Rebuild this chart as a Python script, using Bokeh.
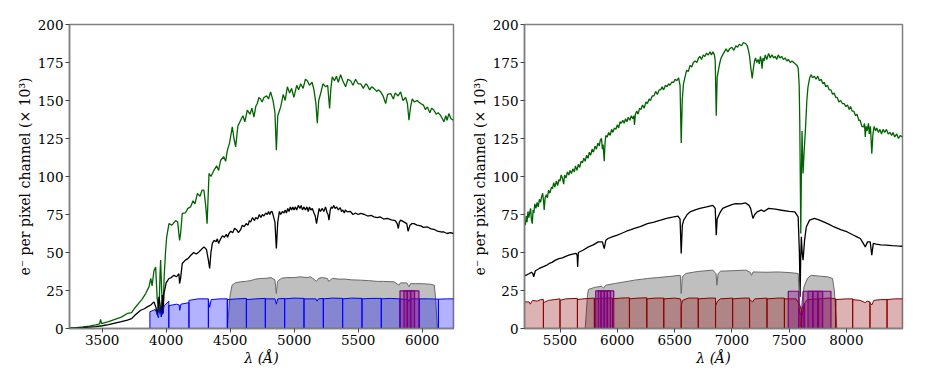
from bokeh.plotting import figure
from bokeh.layouts import row
from bokeh.models import Range1d, FixedTicker
from bokeh.embed import file_html
from bokeh.resources import INLINE

# ---------------- data: left panel ----------------
L_GREEN_WAVE = [3245, 3300, 3350, 3400, 3450, 3480, 3488, 3495, 3550, 3600, 3650, 3700, 3730, 3760, 3790, 3810,
                3840, 3866, 3880, 3890, 3905, 3918, 3930, 3944, 3952, 3957, 3965, 3975, 3985, 3995, 4004, 4022,
                4045, 4074, 4090, 4105, 4113, 4126, 4150, 4170, 4191, 4210, 4225, 4244, 4265, 4280, 4295, 4310,
                4320, 4335, 4350, 4373, 4395, 4410, 4426, 4450, 4465, 4478, 4495, 4517, 4530, 4543, 4560, 4582,
                4600, 4615, 4634, 4655, 4670, 4686, 4700, 4712, 4725, 4738, 4750, 4764, 4785, 4800, 4816, 4835,
                4850, 4861, 4872, 4895, 4915, 4930, 4947, 4965, 4980, 4998, 5020, 5035, 5051, 5070, 5088, 5103,
                5120, 5140, 5155, 5170, 5181, 5192, 5207, 5225, 5246, 5262, 5277, 5287, 5298, 5315, 5330, 5345,
                5363, 5380, 5402, 5420, 5441, 5460, 5480, 5500, 5520, 5540, 5560, 5572, 5590, 5605, 5623, 5645,
                5660, 5676, 5695, 5715, 5730, 5754, 5775, 5790, 5812, 5832, 5850, 5871, 5885, 5897, 5910, 5923,
                5940, 5960, 5988, 6010, 6025, 6041, 6060, 6075, 6092, 6110, 6125, 6145, 6158, 6170, 6185, 6195,
                6209, 6225, 6245]
L_GREEN_FLUX = [0.3, 0.6, 1.0, 1.6, 2.4, 3.0, 6.0, 3.2, 4.5, 6, 7.5, 10, 10.5, 14, 17, 19,
                23, 27.4, 33, 28, 38, 40.5, 20, 10, 35, 45, 25, 9.9, 35, 50, 60, 69,
                68, 71, 70, 58, 62.5, 75.7, 76, 79, 80, 84, 82, 88.8, 87, 91, 91, 80,
                69, 102, 100, 104, 107, 104, 110.7, 113, 110, 117, 122, 132.6, 125, 119.5, 133, 137,
                140, 136, 143.6, 141, 145, 139, 146, 148, 152, 151, 149, 152, 153, 151, 155.7, 150,
                142, 117.3, 140, 145.8, 154, 150, 159, 155, 158, 152, 160, 157, 161, 158, 164, 163,
                160, 162, 157, 148, 135, 150, 154.6, 161, 159, 160, 144.7, 158, 165.5, 163, 166, 162,
                167, 163, 159, 164, 163, 160, 164, 161, 161, 158, 161, 160, 157, 159, 158, 156,
                157, 155.7, 153, 148, 154, 154.6, 151, 155, 153, 155.7, 150, 152, 148, 137, 146, 151,
                149, 150, 148, 147, 144, 145.8, 142, 145, 143.6, 141, 142, 140, 138, 136, 140, 137,
                141.4, 138, 137]

# black spectrum, (wavelength, flux) pairs
L_BLACK = [(3245, 0.2), (3300, 0.4), (3350, 0.6), (3400, 0.9), (3450, 1.2), (3500, 1.8), (3550, 2.5),
           (3600, 3.5), (3650, 4.5), (3697, 5.5), (3730, 6.5), (3760, 9), (3801, 12), (3830, 13), (3853, 14.2),
           (3880, 15.5), (3905, 17.5), (3920, 14), (3932, 9), (3944, 20.8), (3952, 16), (3962, 7.6), (3970, 22),
           (3976, 9.9), (3983, 23), (4000, 30), (4022, 32.9), (4040, 33.5), (4061, 35), (4080, 34), (4100, 36),
           (4105, 29.6), (4113, 33), (4126, 42.8), (4150, 45), (4170, 46), (4191, 48), (4215, 50), (4235, 49),
           (4256, 50.4), (4275, 52), (4295, 53.7), (4315, 52), (4330, 45), (4340, 39.5), (4350, 50),
           (4361, 56), (4375, 58), (4390, 57), (4400, 59), (4410, 56), (4426, 59), (4440, 61), (4455, 60),
           (4470, 62), (4480, 60), (4491, 62.5), (4505, 64), (4520, 63), (4535, 66), (4550, 65), (4565, 63),
           (4582, 65), (4595, 68), (4610, 67), (4625, 69), (4640, 68), (4650, 71), (4660, 70), (4675, 73),
           (4690, 71), (4700, 73), (4715, 72), (4728, 75), (4740, 73), (4752, 75), (4764, 74), (4778, 76),
           (4790, 75), (4800, 77), (4810, 75), (4820, 77), (4829, 76.7), (4850, 70), (4861, 52.6), (4872, 70),
           (4885, 77), (4895, 75), (4908, 77), (4920, 76), (4930, 78), (4940, 76), (4950, 79), (4960, 77),
           (4970, 80), (4980, 78), (4990, 80), (4998, 78), (5010, 80), (5020, 78), (5033, 81), (5045, 79),
           (5055, 81), (5065, 78), (5077, 80), (5088, 78), (5100, 80), (5110, 77), (5120, 80), (5130, 78),
           (5142, 79), (5155, 76), (5165, 74), (5175, 69), (5185, 74), (5195, 79), (5205, 77), (5220, 79),
           (5232, 77), (5245, 80), (5258, 76), (5265, 75), (5272, 71.3), (5282, 78), (5290, 80), (5298, 79),
           (5310, 81), (5320, 79), (5332, 80), (5345, 78), (5360, 79.5), (5370, 77), (5380, 78), (5392, 76),
           (5400, 78), (5415, 76.7), (5440, 77), (5460, 75), (5480, 76), (5500, 75), (5520, 75.7), (5550, 75),
           (5575, 74), (5600, 74.5), (5623, 73.4), (5650, 73), (5670, 73.5), (5700, 72), (5728, 72.4),
           (5760, 71.5), (5790, 71), (5805, 69), (5814, 65.8), (5822, 70), (5832, 71.3), (5860, 70), (5880, 69),
           (5890, 64), (5897, 65.8), (5905, 68), (5920, 69), (5936, 69), (5960, 68), (5990, 67.5), (6010, 66.5),
           (6041, 66.8), (6070, 65.5), (6100, 65), (6120, 64), (6145, 63.6), (6170, 63.5), (6195, 62.5),
           (6220, 63), (6245, 62.5)]

L_GREY_WAVE = [4478, 4500, 4515, 4540, 4580, 4620, 4660, 4700, 4740, 4780, 4820, 4850, 4861, 4870, 4900, 4940,
               4998, 5050, 5100, 5129, 5175, 5190, 5220, 5260, 5270, 5300, 5350, 5400, 5450, 5520, 5580, 5650,
               5700, 5780, 5810, 5819, 5830, 5880, 5897, 5910, 5950, 6000, 6066, 6095, 6105, 6119]
L_GREY_FLUX = [0, 22, 28.5, 30, 30.7, 31, 31.5, 32.5, 32.9, 33, 33.5, 32, 23, 31, 33, 33.5,
               33.5, 34, 33.5, 34, 31, 33, 33.5, 32.9, 31, 33, 32.5, 32.5, 32, 31.8, 31.5, 31,
               31, 30.7, 29, 28.5, 30, 30, 27.5, 29.5, 29.5, 29.5, 29.1, 28.5, 20, 0]

# spectrograph orders (blue), one top profile per order: (wavelength, flux)
L_ORDERS = [
    [(3873, 11), (3915, 12.5), (3940, 7), (3952, 14), (3968, 9), (3985, 15), (4021, 18)],
    [(4021, 15), (4080, 16), (4102, 15.5), (4106, 12), (4115, 16), (4178, 17)],
    [(4178, 18.5), (4250, 19.5), (4330, 19.5)],
    [(4330, 19), (4340, 14), (4352, 19), (4420, 19.5), (4478, 19.5)],
    [(4478, 19), (4550, 19.5), (4627, 19.8)],
    [(4627, 19), (4700, 19.5), (4775, 19.8)],
    [(4775, 19.5), (4850, 19.5), (4861, 16), (4872, 19.5), (4926, 19.8)],
    [(4926, 19.5), (5000, 20), (5077, 19.8)],
    [(5077, 19.5), (5170, 19.5), (5178, 18), (5190, 19.5), (5228, 19.8)],
    [(5228, 19.5), (5300, 20), (5379, 19.8)],
    [(5379, 19.5), (5450, 20), (5530, 19.8)],
    [(5530, 19.5), (5600, 19.8), (5681, 19.8)],
    [(5681, 19.5), (5750, 19.8), (5827, 19.5)],
    [(5827, 19.5), (5890, 19), (5897, 18), (5905, 19.5), (5978, 19.5)],
    [(5978, 19.5), (6050, 19.5), (6127, 19.3)],
    [(6127, 19.3), (6200, 19.5), (6300, 19.5)],
]
L_BOXES = [
    [(5827, 24.8), (5884, 24.8)],
    [(5858, 24.8), (5910, 24.8)],
    [(5884, 24.8), (5941, 24.8)],
    [(5910, 24.8), (5975, 24.8)],
]

# ---------------- data: right panel ----------------
R_GREEN_WAVE = [5190, 5198, 5205, 5212, 5220, 5228, 5235, 5243, 5250, 5258, 5265, 5272, 5280, 5290, 5300, 5310,
                5320, 5330, 5340, 5349, 5356, 5362, 5370, 5380, 5390, 5400, 5412, 5425, 5435, 5445, 5455, 5468,
                5480, 5490, 5500, 5510, 5521, 5532, 5540, 5552, 5565, 5577, 5588, 5600, 5612, 5625, 5635, 5648,
                5660, 5672, 5684, 5696, 5708, 5720, 5732, 5745, 5756, 5768, 5780, 5792, 5806, 5818, 5830, 5842,
                5852, 5862, 5870, 5876, 5886, 5893, 5900, 5912, 5925, 5938, 5950, 5962, 5975, 5988, 6000, 6012,
                6024, 6035, 6048, 6060, 6072, 6085, 6095, 6110, 6122, 6135, 6145, 6150, 6158, 6170, 6182, 6195,
                6207, 6220, 6235, 6250, 6263, 6278, 6290, 6305, 6320, 6335, 6350, 6365, 6378, 6392, 6405, 6420,
                6435, 6448, 6460, 6475, 6492, 6505, 6520, 6535, 6548, 6558, 6567, 6578, 6590, 6606, 6620, 6635,
                6650, 6664, 6680, 6695, 6710, 6721, 6735, 6750, 6765, 6778, 6795, 6810, 6822, 6835, 6848, 6855,
                6864, 6872, 6883, 6893, 6906, 6920, 6935, 6950, 6965, 6980, 7000, 7018, 7035, 7050, 7065, 7085,
                7100, 7121, 7135, 7145, 7155, 7165, 7178, 7188, 7198, 7207, 7218, 7230, 7240, 7250, 7258, 7264,
                7272, 7282, 7292, 7305, 7321, 7335, 7350, 7365, 7378, 7392, 7405, 7420, 7435, 7450, 7465, 7480,
                7493, 7510, 7525, 7540, 7555, 7570, 7580, 7588, 7593, 7602, 7607, 7613, 7617, 7622, 7630, 7642,
                7655, 7665, 7680, 7693, 7705, 7720, 7735, 7750, 7765, 7780, 7795, 7807, 7820, 7835, 7850, 7865,
                7880, 7893, 7908, 7920, 7935, 7950, 7965, 7980, 7995, 8010, 8025, 8036, 8050, 8065, 8080, 8093,
                8108, 8120, 8135, 8150, 8158, 8165, 8172, 8180, 8193, 8200, 8210, 8222, 8232, 8242, 8255, 8265,
                8280, 8293, 8307, 8320, 8335, 8350, 8365, 8380, 8395, 8407, 8422, 8440, 8455, 8470, 8489]
R_GREEN_FLUX = [71, 68, 74, 70, 77, 73, 76, 79, 72, 69, 78, 76, 82, 79, 83, 80,
                85, 83, 87, 89, 84, 78, 86, 88, 86, 91, 89, 93, 92, 96, 93, 97,
                94, 98, 97, 101, 99, 95, 101, 99, 103, 101, 104, 102, 105, 103, 107, 104,
                108, 106, 110, 109, 112, 110, 114, 112, 116, 114, 118, 116, 120, 118, 122, 120,
                124, 125, 118, 121, 110, 122, 127, 126, 129, 127, 131, 129, 132, 131, 134, 132,
                136, 135, 137, 135, 138, 136, 139, 137, 140, 138, 140, 134, 141, 143, 141, 145,
                144, 147, 145, 149, 148, 151, 150, 153, 153, 156, 154, 157, 157, 159, 157, 160,
                159, 161, 160, 162, 162, 164, 163, 165, 160, 122, 150, 161, 165, 170, 169, 173,
                172, 175, 176, 175, 178, 179, 177, 180, 179, 181, 180, 182, 180, 182, 180, 176,
                140, 165, 170, 174, 178, 180, 182, 184, 182, 184, 185, 183, 186, 185, 187, 186,
                188, 187.5, 186, 183, 179, 172, 164.5, 171, 176, 178, 175, 177, 174, 179, 176, 171,
                178, 176, 180, 177, 181, 178, 180, 178, 179, 177, 180, 178, 179, 177, 178, 176,
                177, 175, 176, 175, 174, 173, 171, 160, 137, 62.5, 100, 130, 115, 102, 115, 130,
                150, 159, 165, 167, 165, 166, 164, 166, 163, 164, 161, 162, 159, 160, 157, 157,
                154, 155, 152, 152, 149, 150, 148, 148, 146, 147, 144, 146, 143, 143, 140, 141,
                137, 137, 133, 132.6, 135, 126, 133, 130, 135, 128, 133, 115, 128, 133, 130, 132,
                129, 131, 128, 131, 129, 131, 128, 129, 127, 129, 126, 128, 125, 127, 126]

R_BLACK_WAVE = [5190, 5200, 5230, 5250, 5263, 5270, 5285, 5320, 5350, 5380, 5406, 5430, 5460, 5491, 5520, 5550,
                5577, 5610, 5640, 5650, 5654, 5660, 5700, 5749, 5790, 5834, 5870, 5886, 5900, 5920, 5960, 6000,
                6035, 6080, 6120, 6149, 6200, 6263, 6320, 6378, 6430, 6492, 6530, 6548, 6558, 6568, 6580, 6610,
                6635, 6680, 6721, 6780, 6835, 6855, 6864, 6872, 6893, 6920, 6950, 7000, 7035, 7080, 7121, 7150,
                7164, 7184, 7200, 7221, 7260, 7280, 7321, 7380, 7435, 7500, 7550, 7579, 7590, 7596, 7601, 7607,
                7614, 7622, 7635, 7650, 7679, 7721, 7760, 7807, 7850, 7893, 7950, 8008, 8060, 8100, 8122, 8140,
                8165, 8185, 8208, 8222, 8235, 8260, 8300, 8350, 8400, 8440, 8489]
R_BLACK_FLUX = [35, 35, 36, 37, 36.2, 34, 38, 39.5, 40.5, 41.5, 42.8, 43.5, 45, 46, 46.5, 47.5,
                48.2, 49, 49.5, 48, 40.5, 50, 51.5, 53.7, 55, 57, 57, 52.6, 58, 59.2, 60.5, 61.5,
                62.5, 64, 65, 65.8, 67, 69, 70, 71.3, 72.5, 73.4, 74, 72, 49.3, 68, 71.3, 75,
                76.7, 78, 79, 80, 81, 79, 61.4, 72, 75.7, 79, 80, 81.5, 82.2, 82, 82.6, 81,
                79, 72.4, 75, 76.7, 78, 77, 79, 78.5, 77.8, 77, 76.7, 73.4, 50, 20.8, 45, 60.3,
                50, 45, 58, 66.8, 71.3, 72.4, 71.5, 70, 68.5, 66.8, 65, 63.5, 61.5, 60, 59.2, 57,
                53.7, 57, 57, 48.2, 56, 55.5, 55, 54.8, 54.5, 54.3, 54.1]

R_GREY_WAVE = [5720, 5740, 5749, 5800, 5864, 5880, 5900, 5978, 6050, 6150, 6263, 6350, 6450, 6550, 6558, 6568,
               6600, 6700, 6835, 6862, 6870, 6880, 6900, 7000, 7121, 7160, 7172, 7185, 7300, 7407, 7500, 7579,
               7590, 7598, 7610, 7630, 7660, 7693, 7760, 7836, 7879, 7895, 7916]
R_GREY_FLUX = [0, 22, 25.7, 27, 27.8, 26.5, 28.5, 29.6, 30.5, 31.8, 32.9, 33.5, 34.2, 35, 23, 34,
               36.2, 37.5, 38.4, 36, 28.5, 36, 37.7, 38, 38.4, 37, 35, 37.2, 37, 37.2, 36.8, 36.2,
               20, 1, 15, 27.4, 33, 35, 34.5, 34, 32.9, 25, 0]

R_ORDERS = [
    [(5100, 17), (5190, 17.5), (5230, 17.5), (5240, 16), (5260, 18.5), (5300, 18), (5330, 19), (5355, 19)],
    [(5355, 17), (5400, 18.5), (5450, 19), (5500, 19.5)],
    [(5500, 18.5), (5550, 19.5), (5652, 19.8)],
    [(5652, 19), (5700, 19.5), (5800, 20)],
    [(5800, 19.5), (5880, 20), (5886, 18.5), (5895, 20), (5958, 20)],
    [(5958, 19.5), (6030, 20), (6106, 20.2)],
    [(6106, 19.5), (6180, 20), (6258, 20.2)],
    [(6258, 19.5), (6330, 20), (6406, 20)],
    [(6406, 19.5), (6500, 20), (6550, 19.5), (6558, 17)],
    [(6558, 15), (6570, 18.5), (6620, 20), (6707, 20)],
    [(6707, 19.5), (6800, 20), (6858, 20)],
    [(6858, 15), (6875, 18), (6900, 19.5), (7007, 20)],
    [(7007, 19.5), (7100, 20), (7155, 20)],
    [(7155, 19), (7180, 17.5), (7200, 19.5), (7307, 20)],
    [(7307, 19.5), (7400, 20), (7459, 20)],
    [(7459, 19.5), (7560, 19.5), (7590, 16), (7607, 12)],
    [(7607, 12), (7630, 16), (7660, 19), (7755, 19.5)],
    [(7755, 19.5), (7850, 20), (7907, 19.5)],
    [(7907, 19), (8000, 19.5), (8055, 19.5)],
    [(8055, 19), (8120, 18.5), (8165, 17), (8180, 18), (8206, 17.5)],
    [(8206, 17), (8222, 15.5), (8240, 18.5), (8300, 19), (8355, 19)],
    [(8355, 19), (8420, 19.5), (8510, 19.5)],
]
R_BOXES = [
    [(5812, 24.7), (5858, 24.7)],
    [(5834, 24.7), (5886, 24.7)],
    [(5858, 24.7), (5912, 24.7)],
    [(5886, 24.7), (5941, 24.7)],
    [(5912, 24.7), (5969, 24.7)],
    [(7493, 24.5), (7584, 24.5)],
    [(7584, 14), (7600, 9), (7612, 8), (7622, 12), (7636, 16)],
    [(7622, 24.5), (7708, 24.5)],
    [(7665, 24.5), (7750, 24.5)],
    [(7708, 24.5), (7793, 24.5)],
    [(7750, 24.5), (7865, 24.5)],
]

Y_TICKS = [0, 25, 50, 75, 100, 125, 150, 175, 200]
L_XTICKS = [3500, 4000, 4500, 5000, 5500, 6000]
R_XTICKS = [5500, 6000, 6500, 7000, 7500, 8000]

FONT = "DejaVu Serif"


def to_patches(segments):
    xs, ys = [], []
    for seg in segments:
        w = [s[0] for s in seg]
        f = [s[1] for s in seg]
        xs.append([w[0]] + w + [w[-1]])
        ys.append([0] + f + [0])
    return xs, ys


def make_panel(xr, xticks, green, black, grey, orders, boxes, order_color, width, left_border, right_border):
    p = figure(width=width, height=371, x_range=Range1d(*xr), y_range=Range1d(0, 200),
               output_backend="svg", toolbar_location=None,
               min_border_left=left_border, min_border_right=right_border,
               min_border_top=24, min_border_bottom=43)
    p.line(green[0], green[1], line_color="darkgreen", line_width=1.3)
    p.line(black[0], black[1], line_color="black", line_width=1.3)
    p.patch(grey[0], grey[1], fill_color="gray", fill_alpha=0.5, line_color="dimgray", line_width=1)
    oxs, oys = to_patches(orders)
    p.patches(oxs, oys, fill_color=order_color, fill_alpha=0.3, line_color=order_color, line_width=1)
    bxs, bys = to_patches(boxes)
    p.patches(bxs, bys, fill_color="purple", fill_alpha=0.35, line_color="purple", line_width=1.2)

    p.xaxis.ticker = FixedTicker(ticks=xticks)
    p.yaxis.ticker = FixedTicker(ticks=Y_TICKS)
    for ax in (p.xaxis[0], p.yaxis[0]):
        ax.major_label_text_font = FONT
        ax.major_label_text_font_size = "13.5px"
        ax.major_label_text_color = "black"
        ax.axis_label_text_font = FONT
        ax.axis_label_text_font_size = "14px"
        ax.axis_label_text_color = "black"
        ax.axis_line_color = "#808080"
        ax.axis_line_width = 1.5
        ax.major_tick_line_color = "#444444"
        ax.minor_tick_line_color = None
        ax.major_tick_out = 4
        ax.major_tick_in = 0
        ax.major_label_standoff = 2
        ax.axis_label_standoff = 2
    p.xaxis.axis_label = "λ (Å)"
    p.xaxis.axis_label_text_font_style = "italic"
    p.yaxis.axis_label = "e⁻ per pixel channel (× 10³)"
    p.yaxis.axis_label_text_font_style = "normal"
    p.grid.visible = False
    p.outline_line_color = "#808080"
    p.outline_line_width = 1.5
    p.background_fill_color = "white"
    p.border_fill_color = "white"
    return p


L_BLACK_WAVE = [w for w, _ in L_BLACK]
L_BLACK_FLUX = [f for _, f in L_BLACK]

p1 = make_panel((3245, 6245), L_XTICKS, (L_GREEN_WAVE, L_GREEN_FLUX), (L_BLACK_WAVE, L_BLACK_FLUX),
                (L_GREY_WAVE, L_GREY_FLUX), L_ORDERS, L_BOXES, "blue", 468, 69, 15)
p2 = make_panel((5190, 8490), R_XTICKS, (R_GREEN_WAVE, R_GREEN_FLUX), (R_BLACK_WAVE, R_BLACK_FLUX),
                (R_GREY_WAVE, R_GREY_FLUX), R_ORDERS, R_BOXES, "darkred", 458, 50, 24)

layout = row(p1, p2)
open("out.html", "w").write(file_html(layout, INLINE))
